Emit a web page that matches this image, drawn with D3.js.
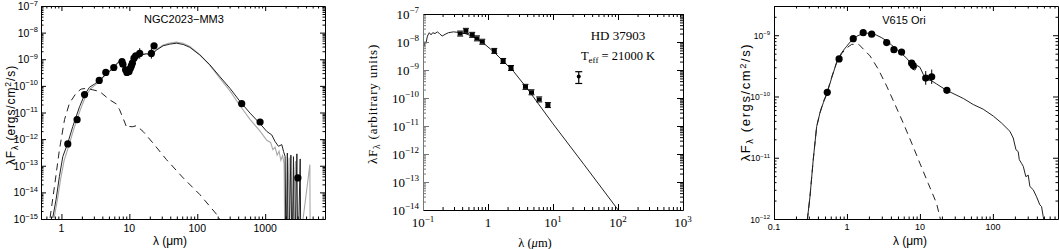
<!DOCTYPE html>
<html><head><meta charset="utf-8">
<script src="https://cdnjs.cloudflare.com/ajax/libs/d3/7.8.5/d3.min.js"></script>
<style>html,body{margin:0;padding:0;background:#fff;} svg{display:block;}</style>
</head><body>
<svg id="chart" width="1059" height="249"></svg>
<script>
// ---------- Panel 1: NGC2023-MM3 ----------
const p1PointLambda = [1.24,1.7,2.19,3.6,4.5,5.9,7.8,8.04,8.8,9.2,9.9,10.35,10.7,11.07,11.7,12.4,14.2,21.1,23.1,451,841,3030];
const p1PointFlux   = [6.6e-13,5.4e-12,4.7e-11,1.6e-10,3.2e-10,4.9e-10,8.1e-10,6.5e-10,4.0e-10,3.2e-10,3.5e-10,4.6e-10,5.6e-10,7.1e-10,1.1e-9,1.35e-9,1.65e-9,1.65e-9,3.2e-9,2.15e-11,4.4e-12,3.5e-14];
const p1ErrLambda = [11.7,14.2,21.1];
const p1ErrLow    = [7e-10,1.05e-9,1.05e-9];
const p1ErrHigh   = [1.7e-9,2.6e-9,2.6e-9];
const p1ModelLambda = [0.744,0.834,0.934,1.047,1.24,1.47,1.85,2.19,2.59,3.07,3.64,4.57,5.73,6.8,7.6,8.2,8.8,9.4,10.0,10.7,11.3,12.0,13.0,14.2,17.8,21.1,25,31.4,39.4,49.4,62,77.8,109,153,216,303,426,598,841,1055,1250,1400,1567,1757,1860,1967,2030,2120,2200,2390,2480,2610,2700,2930,3020,3280,3360];
const p1ModelFlux = [1.1e-15,5.4e-15,4.0e-14,2.2e-13,7.1e-13,3.0e-12,1.66e-11,4.6e-11,8.9e-11,1.17e-10,1.65e-10,2.8e-10,4.6e-10,7.6e-10,9.5e-10,8.5e-10,5.0e-10,3.6e-10,3.5e-10,4.3e-10,6.0e-10,9.0e-10,1.2e-9,1.4e-9,1.6e-9,1.45e-9,2.2e-9,3.2e-9,3.7e-9,4.0e-9,3.6e-9,2.8e-9,1.45e-9,6.2e-10,2.2e-10,8.1e-11,2.6e-11,9.5e-12,3.8e-12,1.95e-12,1.44e-12,8.1e-13,5.4e-13,6.2e-13,3.5e-13,2.2e-13,1e-17,3.0e-13,1e-17,2.5e-13,1e-17,2.2e-13,1e-17,2.8e-13,1e-17,1.8e-13,1e-17];
const p1GreyLambda = [0.78,0.87,0.97,1.09,1.28,1.52,1.9,2.25,2.65,3.1,3.64,4.57,5.73,6.8,7.6,8.2,8.8,9.4,10.0,10.7,11.3,12.0,13.0,14.2,17.8,21.1,25,31.4,39.4,49.4,62,77.8,109,153,216,303,426,598,841,1055,1200,1300,1400,1500,1600,1700,1800,1900,1960,2250,2330,2800,2880,4550,4620];
const p1GreyFlux = [1.1e-15,5e-15,3e-14,1.5e-13,5.5e-13,2.4e-12,1.3e-11,3.8e-11,7.5e-11,1.05e-10,1.5e-10,2.7e-10,4.5e-10,7.4e-10,9.2e-10,8.3e-10,5.0e-10,3.7e-10,3.6e-10,4.4e-10,6.0e-10,9.0e-10,1.2e-9,1.45e-9,1.65e-9,1.55e-9,2.3e-9,3.4e-9,4.1e-9,4.4e-9,4.0e-9,3.0e-9,1.5e-9,6.0e-10,1.9e-10,6.5e-11,1.8e-11,5.5e-12,2.0e-12,9.0e-13,7.5e-13,4.0e-13,5.0e-13,2.5e-13,3.5e-13,1.6e-13,2.4e-13,1.2e-13,1e-17,2.0e-13,1e-17,1.5e-13,1e-17,1.1e-13,1e-17];
const p1StarLambda = [0.68,0.79,0.934,1.11,1.31,1.65,1.95,2.37,2.90,3.64,5.12,6.43,7.19,8.24,9.22,10.1,11.0,12.7,15.9,22.3,35.2,62,109,204,240];
const p1StarFlux = [1.1e-15,1.7e-14,4.0e-13,5.4e-12,2.2e-11,5.4e-11,7.6e-11,8.1e-11,7.1e-11,6.2e-11,3.0e-11,2.1e-11,1.26e-11,5.4e-12,2.6e-12,3.0e-12,2.9e-12,3.2e-12,1.95e-12,7.1e-13,1.7e-13,3.5e-14,8.3e-15,1.26e-15,6e-16];
const p1XTicks = [1,10,100,1000];
const p1XTickLabels = ["1","10","100","1000"];

// ---------- Panel 2: HD 37903 ----------
const p2PointLambda = [0.373,0.457,0.571,0.676,0.817,1.25,1.71,2.26,3.77,4.67,6.14,8.35];
const p2PointFlux   = [2.0e-8,2.5e-8,1.8e-8,1.35e-8,1.02e-8,4.8e-9,2.1e-9,1.18e-9,2.5e-10,1.6e-10,8.9e-11,5.6e-11];
const p2MipsLambda = [24.9];
const p2MipsFlux = [5.8e-10];
const p2MipsLow = [3.3e-10];
const p2MipsHigh = [8.7e-10];
const p2ModelLambda = [0.1035,0.107,0.111,0.117,0.125,0.133,0.141,0.153,0.166,0.179,0.197,0.219,0.246,0.294,0.351,0.446,0.600,0.855,1.22,1.74,2.49,4.0,10,30,100.7,130];
const p2ModelFlux = [6.8e-9,1.02e-8,9e-9,1.63e-8,2.15e-8,1.8e-8,2.15e-8,2.0e-8,2.3e-8,2.0e-8,1.63e-8,1.88e-8,2.15e-8,2.3e-8,2.2e-8,2.0e-8,1.55e-8,9.0e-9,4.5e-9,2.0e-9,8.7e-10,2.2e-10,1.2e-11,4.2e-13,1e-14,4.6e-15];
const p2XTicks = [0.1,1,10,100,1000];
const p2XTickBase = ["10","1","10","10","10"];
const p2XTickExp  = ["−1",null,"1","2","3"];

// ---------- Panel 3: V615 Ori ----------
const p3PointLambda = [0.537,0.78,1.22,1.67,2.18,3.5,4.4,5.6,7.7,8.1,12.0,14.5,23.4];
const p3PointFlux   = [1.17e-10,4.1e-10,8.8e-10,1.1e-9,1.04e-9,7.6e-10,5.8e-10,5.3e-10,3.5e-10,3.2e-10,2.0e-10,2.1e-10,1.26e-10];
const p3ErrLambda = [8.1,12.0,14.5];
const p3ErrLow  = [2.7e-10,1.55e-10,1.6e-10];
const p3ErrHigh = [3.8e-10,2.6e-10,2.75e-10];
const p3ModelLambda = [0.286,0.311,0.345,0.384,0.426,0.474,0.526,0.616,0.722,0.845,0.99,1.16,1.36,1.59,1.86,2.18,2.55,2.99,3.5,4.1,4.8,5.6,6.6,7.3,7.9,8.55,9.2,10,11.1,12.4,14.5,16.9,23.2,39.2,53.7,73.6,101,131,171,190,207,222,230,247,261,283,305,321,357,397,440,464,489,530];
const p3ModelFlux = [9.6e-13,2.3e-12,9.3e-12,3.2e-11,5.4e-11,7.9e-11,1.07e-10,2.0e-10,3.6e-10,5.2e-10,6.6e-10,8.3e-10,9.6e-10,1.05e-9,1.08e-9,1.07e-9,1.0e-9,9.1e-10,8.1e-10,6.9e-10,5.9e-10,5.0e-10,4.2e-10,3.6e-10,2.8e-10,2.7e-10,3.2e-10,3.0e-10,2.3e-10,1.9e-10,1.8e-10,1.6e-10,1.26e-10,9.3e-11,7.4e-11,6.2e-11,4.8e-11,3.7e-11,2.7e-11,2.1e-11,1.35e-11,1.26e-11,9.3e-12,8.1e-12,7.2e-12,4.9e-12,5.2e-12,3.4e-12,3.0e-12,2.3e-12,1.7e-12,1.6e-12,1.1e-12,7e-13];
const p3StarLambda = [0.286,0.311,0.345,0.384,0.426,0.474,0.526,0.616,0.722,0.845,0.99,1.16,1.45,2.07,2.68,3.5,4.55,5.9,7.7,10,13.0,16.9,19.2];
const p3StarFlux = [9.6e-13,2.3e-12,9.3e-12,3.2e-11,5.4e-11,8.2e-11,1.1e-10,2.05e-10,3.6e-10,5.0e-10,6.2e-10,7.1e-10,7.1e-10,4.6e-10,2.8e-10,1.48e-10,7.4e-11,3.7e-11,1.74e-11,8.1e-12,3.8e-12,1.8e-12,9.6e-13];
const p3XTicks = [0.1,1,10,100];
const p3XTickLabels = ["0.1","1","10","100"];

// ---------- drawing ----------
const svg = d3.select("#chart");
const SANS = "'Liberation Sans', Arial, Helvetica, sans-serif";
const SERIF = "'Liberation Serif', 'Times New Roman', serif";

function logTickVals(dom){
  const lo = Math.log10(dom[0]), hi = Math.log10(dom[1]);
  const major = [], minor = [];
  for (let e = Math.floor(lo); e <= Math.ceil(hi); e++) {
    for (let k = 1; k < 10; k++) {
      const v = k * Math.pow(10, e);
      if (v < dom[0] * 0.9999 || v > dom[1] * 1.0001) continue;
      (k === 1 ? major : minor).push(v);
    }
  }
  return {major, minor};
}

function frame(g, x, y, o){
  const [xl, xr] = x.range(), [yb, yt] = y.range();
  const xv = logTickVals(x.domain()), yv = logTickVals(y.domain());
  function add(gen, tr, vals, len, color){
    g.append("g").attr("transform", tr).attr("color", color)
      .call(gen.tickValues(vals).tickSizeInner(-len).tickSizeOuter(0).tickFormat(""))
      .call(s => s.select(".domain").remove());
  }
  [[xv.major, o.maj], [xv.minor, o.min]].forEach(([v, l]) => {
    add(d3.axisBottom(x), `translate(0,${yb})`, v, l, "#000");
    add(d3.axisTop(x), `translate(0,${yt})`, v, l, "#000");
  });
  [[yv.major, o.maj], [yv.minor, o.min]].forEach(([v, l]) => {
    add(d3.axisLeft(y), `translate(${xl},0)`, v, l, o.leftColor || "#000");
    add(d3.axisRight(y), `translate(${xr},0)`, v, l, "#000");
  });
  const b = g.append("g").attr("stroke-width", 1).attr("fill", "none");
  b.append("line").attr("x1", xl + 0.5).attr("x2", xr + 0.5).attr("y1", yb + 0.5).attr("y2", yb + 0.5).attr("stroke", "#000");
  b.append("line").attr("x1", xl + 0.5).attr("x2", xr + 0.5).attr("y1", yt + 0.5).attr("y2", yt + 0.5).attr("stroke", "#000");
  b.append("line").attr("x1", xl + 0.5).attr("x2", xl + 0.5).attr("y1", yt + 0.5).attr("y2", yb + 0.5).attr("stroke", o.leftColor || "#000");
  b.append("line").attr("x1", xr + 0.5).attr("x2", xr + 0.5).attr("y1", yt + 0.5).attr("y2", yb + 0.5).attr("stroke", "#000");
}

function powLabel(g, x, y, base, exp, anchor, font, fs, efs, edy){
  const t = g.append("text").attr("x", x).attr("y", y).attr("text-anchor", anchor)
    .attr("font-family", font).attr("font-size", fs).attr("fill", "#000");
  t.append("tspan").text(base);
  if (exp !== null && exp !== undefined) t.append("tspan").attr("dy", -edy).attr("font-size", efs).text(exp);
  return t;
}

function clip(id, x, y){
  const [xl, xr] = x.range(), [yb, yt] = y.range();
  svg.append("clipPath").attr("id", id).append("rect")
    .attr("x", xl).attr("y", yt).attr("width", xr - xl + 1).attr("height", yb - yt + 1);
  return `url(#${id})`;
}

function yTitle(g, cx, cy, font, fs, ls, main, sub, rest, sup, rest2){
  const t = g.append("text").attr("transform", `translate(${cx},${cy}) rotate(-90)`)
    .attr("text-anchor", "middle").attr("font-family", font).attr("font-size", fs)
    .attr("letter-spacing", ls).attr("fill", "#000");
  t.append("tspan").text(main);
  t.append("tspan").attr("dy", 3).attr("font-size", fs * 0.72).text(sub);
  t.append("tspan").attr("dy", -3).text(rest);
  if (sup) {
    t.append("tspan").attr("dy", -4).attr("font-size", fs * 0.72).text(sup);
    t.append("tspan").attr("dy", 4).text(rest2);
  }
}

const line = (x, y) => d3.line().x(d => x(d[0])).y(d => y(d[1]));

// ===== Panel 1 =====
{
  const x = d3.scaleLog().domain([0.5, 7600]).range([41, 325]);
  const y = d3.scaleLog().domain([1e-15, 1e-7]).range([219, 6]);
  const g = svg.append("g");
  const cp = clip("clip1", x, y);
  const lg = g.append("g").attr("clip-path", cp).attr("fill", "none");
  lg.append("path").attr("d", line(x, y)(d3.zip(p1GreyLambda, p1GreyFlux)))
    .attr("stroke", "#a8a8a8").attr("stroke-width", 1.1);
  lg.append("path").attr("d", line(x, y)(d3.zip(p1StarLambda, p1StarFlux)))
    .attr("stroke", "#222").attr("stroke-width", 1).attr("stroke-dasharray", "7,5");
  lg.append("path").attr("d", line(x, y)(d3.zip(p1ModelLambda, p1ModelFlux)))
    .attr("stroke", "#222").attr("stroke-width", 1);
  const eg = g.append("g").attr("stroke", "#000").attr("stroke-width", 1);
  p1ErrLambda.forEach((l, i) => {
    eg.append("line").attr("x1", x(l)).attr("x2", x(l)).attr("y1", y(p1ErrLow[i])).attr("y2", y(p1ErrHigh[i]));
  });
  g.append("g").selectAll("circle").data(d3.zip(p1PointLambda, p1PointFlux)).join("circle")
    .attr("cx", d => x(d[0])).attr("cy", d => y(d[1])).attr("r", 3.6).attr("fill", "#000");
  frame(g, x, y, {maj: 5, min: 2.5});
  const yv = logTickVals(y.domain()).major;
  yv.forEach(v => powLabel(g, 38, y(v) + 4, "10", "−" + Math.round(-Math.log10(v)), "end", SANS, 10.5, 7.5, 4.5));
  p1XTicks.forEach((v, i) => g.append("text").attr("x", x(v)).attr("y", 232).attr("text-anchor", "middle")
    .attr("font-family", SANS).attr("font-size", 10.5).text(p1XTickLabels[i]));
  g.append("text").attr("x", 184).attr("y", 23).attr("text-anchor", "middle").attr("font-family", SANS)
    .attr("font-size", 11).text("NGC2023−MM3");
  g.append("text").attr("x", 170).attr("y", 245).attr("text-anchor", "middle").attr("font-family", SANS)
    .attr("font-size", 12).text("λ (μm)");
  yTitle(g, 15, 115, SANS, 12, 0.9, "λF", "λ", " (ergs/cm", "2", "/s)");
}

// ===== Panel 2 =====
{
  const x = d3.scaleLog().domain([0.1, 1000]).range([423, 683]);
  const y = d3.scaleLog().domain([1e-14, 1e-7]).range([210, 14]);
  const g = svg.append("g");
  const cp = clip("clip2", x, y);
  g.append("g").attr("clip-path", cp).append("path")
    .attr("d", line(x, y)(d3.zip(p2ModelLambda, p2ModelFlux)))
    .attr("fill", "none").attr("stroke", "#222").attr("stroke-width", 1);
  const pg = g.append("g");
  d3.zip(p2PointLambda, p2PointFlux).forEach(d => {
    const px = x(d[0]), py = y(d[1]);
    pg.append("rect").attr("x", px - 2.5).attr("y", py - 2).attr("width", 5).attr("height", 4).attr("fill", "#000");
    pg.append("line").attr("x1", px - 3).attr("x2", px + 3).attr("y1", py - 2.5).attr("y2", py - 2.5).attr("stroke", "#000");
    pg.append("line").attr("x1", px - 3).attr("x2", px + 3).attr("y1", py + 2.5).attr("y2", py + 2.5).attr("stroke", "#000");
  });
  p2MipsLambda.forEach((l, i) => {
    const px = x(l);
    pg.append("line").attr("x1", px).attr("x2", px).attr("y1", y(p2MipsLow[i])).attr("y2", y(p2MipsHigh[i])).attr("stroke", "#000").attr("stroke-width", 1.2);
    [p2MipsLow[i], p2MipsHigh[i]].forEach(v => pg.append("line").attr("x1", px - 3.5).attr("x2", px + 3.5)
      .attr("y1", y(v)).attr("y2", y(v)).attr("stroke", "#000").attr("stroke-width", 1.2));
    pg.append("circle").attr("cx", px).attr("cy", y(p2MipsFlux[i])).attr("r", 2).attr("fill", "#000");
  });
  frame(g, x, y, {maj: 6, min: 3, leftColor: "#777"});
  const yv = logTickVals(y.domain()).major;
  yv.forEach(v => powLabel(g, 419, y(v) + 4.5, "10", "−" + Math.round(-Math.log10(v)), "end", SERIF, 13, 9, 5.5));
  p2XTicks.forEach((v, i) => powLabel(g, x(v), 227, p2XTickBase[i], p2XTickExp[i], "middle", SERIF, 13, 9, 5.5));
  g.append("text").attr("x", 618).attr("y", 40).attr("text-anchor", "middle").attr("font-family", SERIF)
    .attr("font-size", 13).text("HD 37903");
  const te = g.append("text").attr("x", 618).attr("y", 60).attr("text-anchor", "middle").attr("font-family", SERIF)
    .attr("font-size", 12.5);
  te.append("tspan").text("T");
  te.append("tspan").attr("dy", 3).attr("font-size", 9).text("eff");
  te.append("tspan").attr("dy", -3).text(" = 21000 K");
  const xt = g.append("text").attr("x", 535).attr("y", 247).attr("text-anchor", "middle").attr("font-family", SERIF)
    .attr("font-size", 12.5);
  xt.append("tspan").text("λ (");
  xt.append("tspan").attr("font-style", "italic").text("μ");
  xt.append("tspan").text("m)");
  yTitle(g, 377, 104, SERIF, 13, 0.8, "λF", "λ", " (arbitrary units)");
}

// ===== Panel 3 =====
{
  const x = d3.scaleLog().domain([0.1, 780]).range([774, 1058]);
  const y = d3.scaleLog().domain([1e-12, 3e-9]).range([219, 6]);
  const g = svg.append("g");
  const cp = clip("clip3", x, y);
  const lg = g.append("g").attr("clip-path", cp).attr("fill", "none");
  lg.append("path").attr("d", line(x, y)(d3.zip(p3StarLambda, p3StarFlux)))
    .attr("stroke", "#222").attr("stroke-width", 1).attr("stroke-dasharray", "7,5");
  lg.append("path").attr("d", line(x, y)(d3.zip(p3ModelLambda, p3ModelFlux)))
    .attr("stroke", "#222").attr("stroke-width", 1);
  const eg = g.append("g").attr("stroke", "#000").attr("stroke-width", 1);
  p3ErrLambda.forEach((l, i) => {
    eg.append("line").attr("x1", x(l)).attr("x2", x(l)).attr("y1", y(p3ErrLow[i])).attr("y2", y(p3ErrHigh[i]));
  });
  g.append("g").selectAll("circle").data(d3.zip(p3PointLambda, p3PointFlux)).join("circle")
    .attr("cx", d => x(d[0])).attr("cy", d => y(d[1])).attr("r", 3.6).attr("fill", "#000");
  frame(g, x, y, {maj: 5, min: 2.5});
  const yv = logTickVals(y.domain()).major;
  yv.forEach(v => powLabel(g, 770, y(v) + 3.5, "10", "−" + Math.round(-Math.log10(v)), "end", SANS, 8.5, 6, 3.5));
  p3XTicks.forEach((v, i) => g.append("text").attr("x", x(v)).attr("y", 230).attr("text-anchor", "middle")
    .attr("font-family", SANS).attr("font-size", 9).text(p3XTickLabels[i]));
  g.append("text").attr("x", 904).attr("y", 24).attr("text-anchor", "middle").attr("font-family", SANS)
    .attr("font-size", 11).text("V615 Ori");
  g.append("text").attr("x", 910).attr("y", 245).attr("text-anchor", "middle").attr("font-family", SANS)
    .attr("font-size", 12).text("λ (μm)");
  yTitle(g, 750, 102, SANS, 13, 1.6, "λF", "λ", " (ergs/cm", "2", "/s)");
}
</script>
</body></html>
